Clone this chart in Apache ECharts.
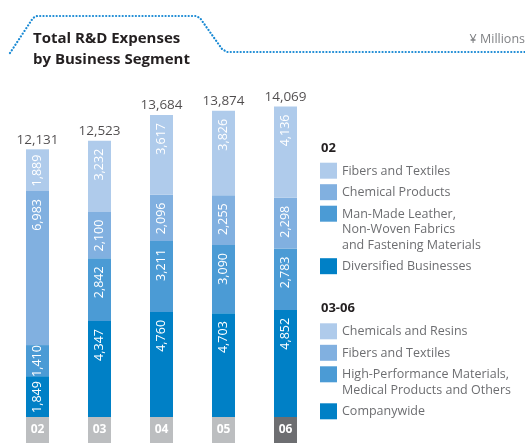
<!DOCTYPE html>
<html>
<head>
<meta charset="utf-8">
<script src="https://cdn.jsdelivr.net/npm/echarts@6/dist/echarts.min.js"></script>
<style>
  html, body { margin: 0; padding: 0; background: #fff; }
  #chart { width: 525px; height: 447px; }
</style>
</head>
<body>
<div id="chart"></div>
<script>
// fiscal years
var years = ["02", "03", "04", "05", "06"];

// segments, bottom to top
var darkest = [1849, 4347, 4760, 4703, 4852];
var dark = [1410, 2842, 3211, 3090, 2783];
var mid = [6983, 2100, 2096, 2255, 2298];
var light = [1889, 3232, 3617, 3826, 4136];
var totals = [12131, 12523, 13684, 13874, 14069];

var legend02 = [
  "Fibers and Textiles",
  "Chemical Products",
  "Man-Made Leather,\nNon-Woven Fabrics\nand Fastening Materials",
  "Diversified Businesses"
];
var legend0306 = [
  "Chemicals and Resins",
  "Fibers and Textiles",
  "High-Performance Materials,\nMedical Products and Others",
  "Companywide"
];

var colors = ["#0080c6", "#4b9bd5", "#81b0e0", "#afcbeb"];
var legendColors = ["#afcbeb", "#81b0e0", "#4b9bd5", "#0080c6"];
var FONT = "Open Sans";

var Y_MAX = 15000;
var PLOT_H = 331;

var myChart = echarts.init(document.getElementById("chart"));

function fmt(v) {
  return Number(v).toLocaleString("en-US");
}

// short segments get their label centred, long ones near the top
function withLabelGap(data) {
  return data.map(function (v) {
    var h = v * PLOT_H / Y_MAX;
    var gap = Math.max(0, Math.min(8, (h - 31) / 2));
    return { value: v, label: { distance: gap } };
  });
}

function segment(name, data, color) {
  return {
    name: name,
    type: "bar",
    stack: "rd",
    barWidth: 23,
    data: withLabelGap(data),
    itemStyle: { color: color },
    label: {
      show: true,
      position: "insideTop",
      rotate: 90,
      align: "right",
      verticalAlign: "middle",
      color: "#fff",
      fontFamily: FONT,
      fontSize: 12.5,
      formatter: function (p) { return fmt(p.value); }
    }
  };
}

// legend drawn as graphics so multi-line items line up like the original
function legendBlock(title, items, x, titleY, firstTop) {
  var els = [{
    type: "text", left: x + 1, top: titleY - 8,
    style: { text: title, fill: "#231f20", font: "bold 13px " + FONT }
  }];
  var top = firstTop;
  items.forEach(function (txt, i) {
    els.push({
      type: "rect", shape: { x: x, y: top, width: 17, height: 16 },
      style: { fill: legendColors[i] }
    });
    els.push({
      type: "text", x: x + 22, y: top + 0.5,
      style: {
        text: txt, fill: "#6d6e71", font: "12.5px " + FONT,
        lineHeight: 15.5, verticalAlign: "top"
      }
    });
    top += 21.5 + 15.5 * (txt.split("\n").length - 1);
  });
  return els;
}

var graphics = [
  {
    type: "polyline",
    shape: {
      points: [[10, 53], [33, 18], [37, 16], [196, 16], [200, 18],
               [222, 49], [227, 52], [525, 52]]
    },
    style: { stroke: "#1a8ad4", lineWidth: 2.2, lineDash: [0.1, 3.2], lineCap: "round", fill: null }
  },
  {
    type: "text", left: 33, top: 28,
    style: {
      text: "Total R&D Expenses\nby Business Segment",
      fill: "#231f20", font: "bold 15px " + FONT, lineHeight: 21
    }
  },
  {
    type: "text", right: 0, top: 33,
    style: { text: "¥ Millions", fill: "#808285", font: "12.5px " + FONT }
  }
].concat(legendBlock("02", legend02, 320, 150, 162.7))
 .concat(legendBlock("03-06", legend0306, 320, 309.3, 323.3));

myChart.setOption({
  animation: false,
  grid: { left: 6.5, width: 310, top: 86, bottom: 30 },
  xAxis: {
    type: "category",
    data: years,
    axisLine: { show: false },
    axisTick: { show: false },
    axisLabel: {
      margin: 0,
      interval: 0,
      formatter: function (v) {
        return v === "06" ? "{cur|" + v + "}" : "{n|" + v + "}";
      },
      rich: {
        n: {
          backgroundColor: "#bcbec0", width: 23, height: 26, lineHeight: 26,
          align: "center", color: "#fff", fontWeight: "bold", fontSize: 12, fontFamily: FONT
        },
        cur: {
          backgroundColor: "#6d6e71", width: 23, height: 26, lineHeight: 26,
          align: "center", color: "#fff", fontWeight: "bold", fontSize: 12, fontFamily: FONT
        }
      }
    }
  },
  yAxis: {
    type: "value",
    min: 0,
    max: Y_MAX,
    show: false,
    splitLine: { show: false }
  },
  series: [
    segment("Diversified / Companywide", darkest, colors[0]),
    segment("Leather etc. / High-Performance", dark, colors[1]),
    segment("Chemical / Fibers", mid, colors[2]),
    segment("Fibers / Chemicals and Resins", light, colors[3]),
    {
      name: "Total",
      type: "scatter",
      data: totals,
      symbolSize: 1,
      itemStyle: { color: "rgba(0,0,0,0)" },
      label: {
        show: true,
        position: "top",
        distance: 2,
        color: "#231f20",
        fontFamily: FONT,
        fontSize: 13.5,
        formatter: function (p) { return fmt(p.value); }
      },
      z: 5
    }
  ],
  graphic: graphics
});

window.addEventListener("resize", function () {
  myChart.resize();
});
</script>
</body>
</html>
